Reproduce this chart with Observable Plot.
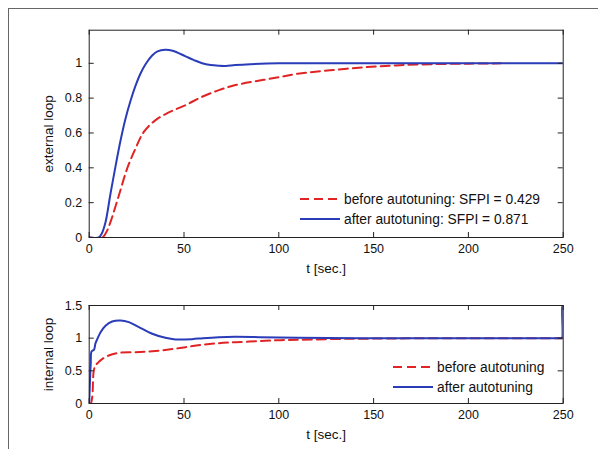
<!DOCTYPE html>
<html>
<head>
<meta charset="utf-8">
<script src="https://cdn.jsdelivr.net/npm/d3@7"></script>
<script src="https://cdn.jsdelivr.net/npm/@observablehq/plot@0.6"></script>
<style>
  html, body { margin: 0; padding: 0; background: #fff; }
  #wrap { position: relative; width: 598px; height: 449px; overflow: hidden; background: #fff;
          font-family: "Liberation Sans", Arial, sans-serif; color: #111; }
  #border { position: absolute; left: 8px; top: 8px; right: -10px; bottom: -10px;
            border-left: 1.5px solid #666; border-top: 1.5px solid #666; }
  .plotbox { position: absolute; left: 0; }
  .legend { position: absolute; font-size: 13.8px; white-space: nowrap; }
  .legend .row { position: absolute; left: 0; height: 20px; display: flex; align-items: center; }
  .legend svg { display: block; margin-right: 4px; }
</style>
</head>
<body>
<div id="wrap">
  <div id="border"></div>
  <div id="top" class="plotbox" style="top:0"></div>
  <div id="bot" class="plotbox" style="top:280px"></div>
  <div class="legend" style="left:300px; top:189px;">
    <div class="row" style="top:0"><svg width="40" height="4"><line x1="0" y1="2" x2="40" y2="2" stroke="#e02424" stroke-width="2" stroke-dasharray="9,5"/></svg><span>before autotuning: SFPI = 0.429</span></div>
    <div class="row" style="top:20px"><svg width="40" height="4"><line x1="0" y1="2" x2="40" y2="2" stroke="#2a3cb8" stroke-width="2"/></svg><span>after autotuning: SFPI = 0.871</span></div>
  </div>
  <div class="legend" style="left:393px; top:357px;">
    <div class="row" style="top:0"><svg width="40" height="4"><line x1="0" y1="2" x2="40" y2="2" stroke="#e02424" stroke-width="2" stroke-dasharray="9,5"/></svg><span>before autotuning</span></div>
    <div class="row" style="top:20px"><svg width="40" height="4"><line x1="0" y1="2" x2="40" y2="2" stroke="#2a3cb8" stroke-width="2"/></svg><span>after autotuning</span></div>
  </div>
</div>
<script>
// ---- data ----
const xTicks = [0, 50, 100, 150, 200, 250];
const yTicksTop = [0, 0.2, 0.4, 0.6, 0.8, 1];
const yTicksBot = [0, 0.5, 1, 1.5];

// external loop, after autotuning
const extAfterT = [0, 5, 6.5, 8.6, 11.2, 13.9, 16.5, 19.1, 21.8, 24.4, 27, 29.7, 33.2, 36, 40, 44, 50.8, 55, 59.6, 64, 68.4, 72, 77, 85, 100, 150, 200, 250];
const extAfterV = [0, 0, 0.02, 0.088, 0.25, 0.41, 0.555, 0.68, 0.785, 0.87, 0.94, 0.995, 1.045, 1.068, 1.078, 1.072, 1.04, 1.02, 1.0, 0.99, 0.986, 0.985, 0.99, 0.995, 1.0, 1.0, 1.0, 1.0];
// external loop, before autotuning
const extBeforeT = [0, 6.8, 9, 11.2, 15.6, 20, 24.4, 28.8, 35, 42, 50.8, 59.6, 68.4, 77.2, 92, 100, 110, 127, 145, 162, 180, 200, 217];
const extBeforeV = [0, 0, 0.03, 0.088, 0.24, 0.395, 0.51, 0.606, 0.674, 0.718, 0.76, 0.808, 0.846, 0.875, 0.905, 0.92, 0.94, 0.96, 0.977, 0.988, 0.995, 0.998, 1.0];
// internal loop, after autotuning
const intAfterT = [0, 0.8, 1.3, 2.5, 3.3, 4.5, 6, 8.6, 12.1, 16.5, 20.9, 26.2, 33.2, 40.2, 45.5, 54.3, 60, 68.4, 77, 90, 110, 150, 200, 230, 245, 248.5, 249.3, 249.6, 250];
const intAfterV = [0, 0.6, 0.8, 0.82, 0.92, 1.0, 1.09, 1.19, 1.255, 1.27, 1.245, 1.17, 1.067, 1.005, 0.98, 0.985, 1.0, 1.015, 1.02, 1.015, 1.005, 1.0, 1.0, 1.0, 1.0, 1.0, 1.0, 1.5, 1.5];
// internal loop, before autotuning
const intBeforeT = [0, 0.8, 1.6, 2.4, 3.3, 4.5, 6.8, 10.3, 15.6, 24.4, 33.2, 42, 50.8, 59.6, 68.4, 77.2, 90, 101, 111.5, 136, 160, 176, 200, 250];
const intBeforeV = [0, 0, 0.1, 0.5, 0.58, 0.62, 0.68, 0.735, 0.775, 0.785, 0.8, 0.826, 0.862, 0.898, 0.923, 0.938, 0.955, 0.97, 0.975, 0.99, 0.995, 1.0, 1.0, 1.0];

const RED = "#e02424", BLUE = "#2a3cb8";
const zip = (ts, vs) => ts.map((t, i) => ({t, v: vs[i]}));

function panel({height, mTop, mBottom, yDomain, yTicks, before, after, ylabel, xlabDy}) {
  const W = 598, mLeft = 88.7, mRight = 35.3;
  const iw = W - mLeft - mRight, ih = height - mTop - mBottom, tl = 5;
  return Plot.plot({
    width: W, height,
    marginLeft: mLeft, marginRight: mRight, marginTop: mTop, marginBottom: mBottom,
    style: {fontFamily: '"Liberation Sans", Arial, sans-serif', fontSize: "12.5px", background: "transparent", color: "#111"},
    x: {domain: [0, 250]},
    y: {domain: yDomain},
    marks: [
      Plot.line(before, {x: "t", y: "v", stroke: RED, strokeWidth: 2, strokeDasharray: "9,5", curve: "catmull-rom", clip: true}),
      Plot.line(after, {x: "t", y: "v", stroke: BLUE, strokeWidth: 2, curve: "catmull-rom", clip: true}),
      Plot.frame({stroke: "#222", strokeWidth: 1}),
      // inward ticks (MATLAB style), on all four sides
      Plot.tickX(xTicks, {x: d => d, stroke: "#222", insetTop: ih - tl}),
      Plot.tickX(xTicks, {x: d => d, stroke: "#222", insetBottom: ih - tl}),
      Plot.tickY(yTicks, {y: d => d, stroke: "#222", insetRight: iw - tl}),
      Plot.tickY(yTicks, {y: d => d, stroke: "#222", insetLeft: iw - tl}),
      Plot.axisX({ticks: xTicks, tickSize: 0, tickPadding: 6.5, label: null, tickFormat: d => String(d)}),
      Plot.axisY({ticks: yTicks, tickSize: 0, tickPadding: 7, label: null, tickFormat: d => String(d)}),
      Plot.text(["t [sec.]"], {text: d => d, frameAnchor: "bottom", textAnchor: "middle", dy: xlabDy, lineAnchor: "middle", fontSize: 13.5}),
      Plot.text([ylabel], {text: d => d, frameAnchor: "left", textAnchor: "middle", dx: -41, rotate: -90, lineAnchor: "middle", fontSize: 13.5})
    ]
  });
}

document.getElementById("top").append(panel({
  height: 280, mTop: 29.7, mBottom: 43, yDomain: [0, 1.19], yTicks: yTicksTop,
  before: zip(extBeforeT, extBeforeV), after: zip(extAfterT, extAfterV),
  ylabel: "external loop", xlabDy: 31.5
}));
document.getElementById("bot").append(panel({
  height: 169, mTop: 25, mBottom: 46, yDomain: [0, 1.5], yTicks: yTicksBot,
  before: zip(intBeforeT, intBeforeV), after: zip(intAfterT, intAfterV),
  ylabel: "internal loop", xlabDy: 30.7
}));
</script>
</body>
</html>
